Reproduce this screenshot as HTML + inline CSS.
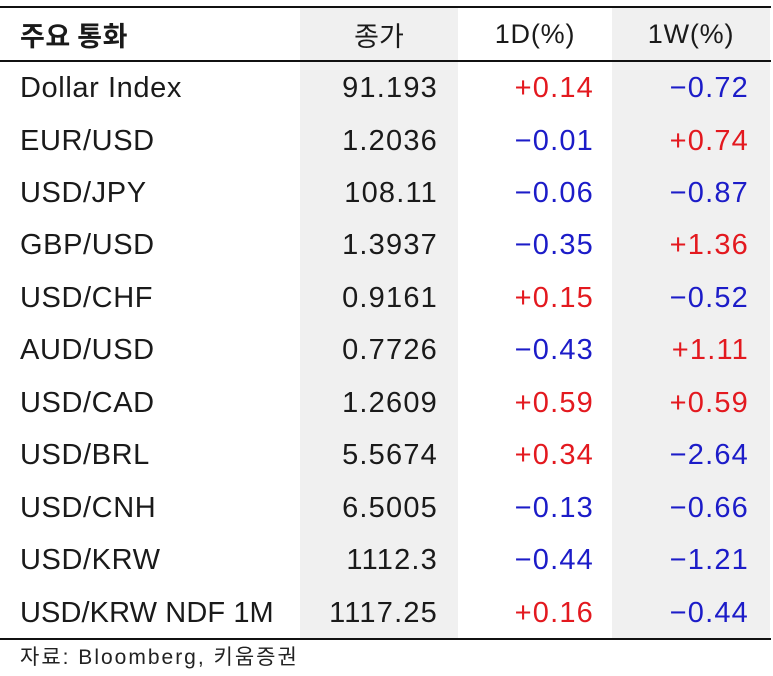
<!DOCTYPE html>
<html>
<head>
<meta charset="utf-8">
<style>
  html, body { margin:0; padding:0; background:#fff; }
  body { width:773px; height:676px; position:relative; overflow:hidden;
         font-family:"Liberation Sans","Noto Sans CJK KR",sans-serif; color:#1a1a1a; }
  .ln { position:absolute; left:0; width:771px; background:#111; }
  .gray { position:absolute; top:8px; height:631px; background:#f0f0f0; }
  .row { position:absolute; left:0; width:773px; height:52px; line-height:53px; font-size:29px; }
  .c { position:absolute; top:0; white-space:nowrap; }
  .c1 { left:20px; letter-spacing:0.6px; }
  .c2 { right:335px; letter-spacing:1.2px; text-align:right; }
  .c3 { right:179px; letter-spacing:1.2px; text-align:right; }
  .c4 { right:24px; letter-spacing:1.2px; text-align:right; }
  .r { color:#e3191f; }
  .b { color:#1c1cc8; }
  .hdr { position:absolute; top:8px; height:52px; line-height:53px; font-size:27px; white-space:nowrap; }
  .foot { position:absolute; left:20px; top:645px; font-size:21px; line-height:26px; letter-spacing:2px; color:#222; }
</style>
</head>
<body>
<div class="gray" style="left:300px; width:158px;"></div>
<div class="gray" style="left:612px; width:158px;"></div>
<div class="ln" style="top:6px; height:2px;"></div>
<div class="ln" style="top:60px; height:2px;"></div>
<div class="ln" style="top:638px; height:2px;"></div>

<div class="hdr" style="left:20px; font-weight:bold; font-family:'Noto Sans CJK KR',sans-serif; letter-spacing:0.5px;">주요 통화</div>
<div class="hdr" style="left:300px; width:158px; text-align:center; font-family:'Noto Sans CJK KR',sans-serif;">종가</div>
<div class="hdr" style="left:458px; width:154px; text-align:center; letter-spacing:0.8px;">1D(%)</div>
<div class="hdr" style="left:612px; width:158px; text-align:center; letter-spacing:0.8px;">1W(%)</div>

<div class="row" style="top:62px;"><span class="c c1">Dollar Index</span><span class="c c2">91.193</span><span class="c c3 r">+0.14</span><span class="c c4 b">−0.72</span></div>
<div class="row" style="top:114.5px;"><span class="c c1">EUR/USD</span><span class="c c2">1.2036</span><span class="c c3 b">−0.01</span><span class="c c4 r">+0.74</span></div>
<div class="row" style="top:166.9px;"><span class="c c1">USD/JPY</span><span class="c c2">108.11</span><span class="c c3 b">−0.06</span><span class="c c4 b">−0.87</span></div>
<div class="row" style="top:219.4px;"><span class="c c1">GBP/USD</span><span class="c c2">1.3937</span><span class="c c3 b">−0.35</span><span class="c c4 r">+1.36</span></div>
<div class="row" style="top:271.8px;"><span class="c c1">USD/CHF</span><span class="c c2">0.9161</span><span class="c c3 r">+0.15</span><span class="c c4 b">−0.52</span></div>
<div class="row" style="top:324.3px;"><span class="c c1">AUD/USD</span><span class="c c2">0.7726</span><span class="c c3 b">−0.43</span><span class="c c4 r">+1.11</span></div>
<div class="row" style="top:376.7px;"><span class="c c1">USD/CAD</span><span class="c c2">1.2609</span><span class="c c3 r">+0.59</span><span class="c c4 r">+0.59</span></div>
<div class="row" style="top:429.2px;"><span class="c c1">USD/BRL</span><span class="c c2">5.5674</span><span class="c c3 r">+0.34</span><span class="c c4 b">−2.64</span></div>
<div class="row" style="top:481.6px;"><span class="c c1">USD/CNH</span><span class="c c2">6.5005</span><span class="c c3 b">−0.13</span><span class="c c4 b">−0.66</span></div>
<div class="row" style="top:534.1px;"><span class="c c1">USD/KRW</span><span class="c c2">1112.3</span><span class="c c3 b">−0.44</span><span class="c c4 b">−1.21</span></div>
<div class="row" style="top:586.5px;"><span class="c c1" style="letter-spacing:0.1px;">USD/KRW NDF 1M</span><span class="c c2">1117.25</span><span class="c c3 r">+0.16</span><span class="c c4 b">−0.44</span></div>

<div class="foot">자료: Bloomberg, 키움증권</div>
</body>
</html>
